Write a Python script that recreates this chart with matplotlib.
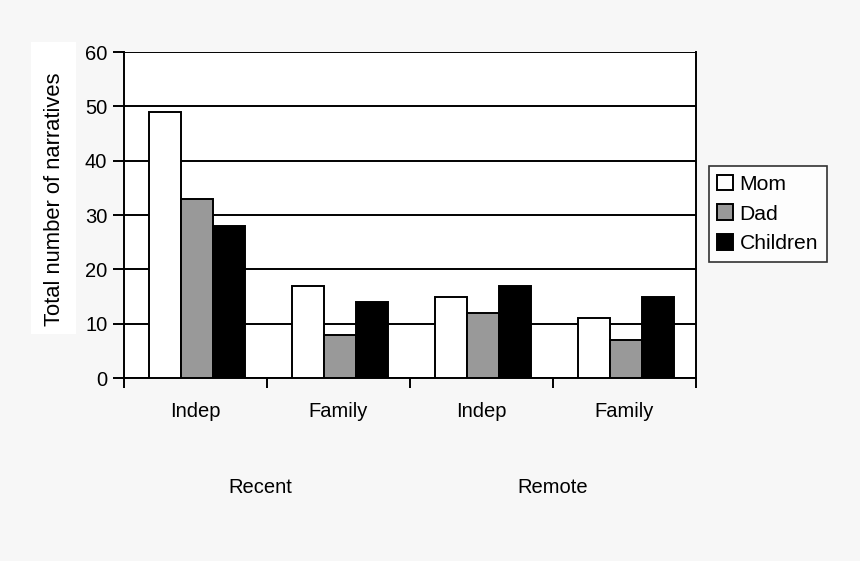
import matplotlib.pyplot as plt
import numpy as np
from matplotlib.patches import Rectangle

plt.rcParams['font.family'] = ['Liberation Sans', 'DejaVu Sans']

# data
subcats = ['Indep', 'Family', 'Indep', 'Family']
periods = ['Recent', 'Remote']
series = ['Mom', 'Dad', 'Children']
mom = [49, 17, 15, 11]
dad = [33, 8, 12, 7]
children = [28, 14, 17, 15]
colors = ['white', '#999999', 'black']

fs = 14.5

fig = plt.figure(figsize=(8.6, 5.61), dpi=100, facecolor='#f7f7f7')
ax = fig.add_axes([0.1442, 0.3262, 0.6651, 0.5811])
ax.set_facecolor('white')

# white box behind the y label
fig.patches.append(Rectangle((31 / 860, 1 - 334 / 561), 45 / 860, 292 / 561,
                             transform=fig.transFigure, facecolor='white',
                             edgecolor='none', zorder=0))

x = np.arange(len(subcats))
w = 0.222
for i, (vals, c, name) in enumerate(zip([mom, dad, children], colors, series)):
    ax.bar(x + (i - 1) * w + 0.01, vals, w, color=c, edgecolor='black',
           linewidth=1.4, label=name, zorder=3)

ax.set_ylim(0, 60)
ax.set_xlim(-0.5, 3.5)
ax.set_yticks(range(0, 61, 10))
ax.yaxis.grid(True, color='black', linewidth=1.4, zorder=1)
ax.set_axisbelow(True)
for s in ax.spines.values():
    s.set_linewidth(1.4)
ax.spines['top'].set_visible(False)

ax.tick_params(axis='y', direction='out', length=8, width=1.4, labelsize=fs, pad=4)
ax.set_xticks(np.arange(-0.5, 4, 1))
ax.set_xticklabels([])
ax.tick_params(axis='x', direction='out', length=7, width=1.4)
for xi, lab in zip(x, subcats):
    ax.text(xi, -6.1, lab, ha='center', va='center', fontsize=fs,
            transform=ax.transData, clip_on=False)
for xi, lab in zip([0.45, 2.5], periods):
    ax.text(xi, -20.1, lab, ha='center', va='center', fontsize=fs,
            transform=ax.transData, clip_on=False)

fig.text(54 / 860, 1 - 199 / 561, 'Total number of narratives', rotation=90,
         ha='center', va='center', fontsize=15.8)

leg = ax.legend(loc='center left', bbox_to_anchor=(709 / 860, 1 - 214 / 561),
                bbox_transform=fig.transFigure, frameon=True, fancybox=False,
                fontsize=15.2, handlelength=0.75, handleheight=0.75,
                handletextpad=0.3, labelspacing=0.5, borderpad=0.4,
                borderaxespad=0)
leg.get_frame().set_edgecolor('black')
leg.get_frame().set_linewidth(1.2)
leg.get_frame().set_facecolor('white')

fig.savefig('out.png', dpi=100, facecolor=fig.get_facecolor())
